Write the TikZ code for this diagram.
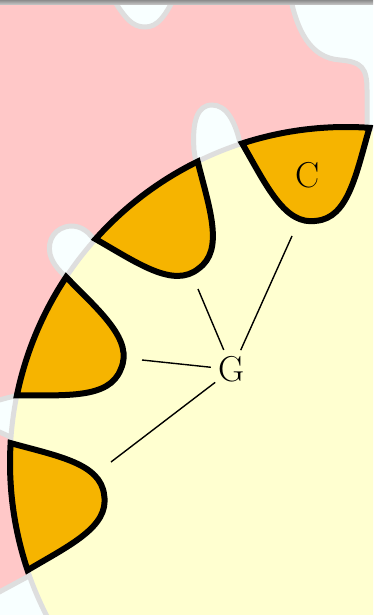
\documentclass[tikz,border=0pt]{standalone}
\usetikzlibrary{calc}
\definecolor{bgwhite}{RGB}{248,255,255}
\definecolor{pinkreg}{RGB}{255,200,200}
\definecolor{disccol}{RGB}{255,255,208}
\definecolor{petalcol}{RGB}{246,180,0}
\definecolor{outl}{RGB}{222,222,222}
\tikzset{
  region/.style={fill=pinkreg, draw=outl, line width=5pt},
  discstyle/.style={fill=disccol, draw=outl, line width=5pt},
  petalstyle/.style={fill=petalcol, draw=black, line width=6pt},
  lbl/.style={font=\fontsize{36}{40}\selectfont, inner sep=0pt},
  link/.style={line width=1.4pt, draw=black}
}
% local control points: c1=(285,45) -> r 288.5, a 8.97 ; c2=(243,32) -> r 245.1, a 7.50
\newcommand\drawpetal[1]{%
  \draw[petalstyle] ($(O)+(#1+11:336)$)
    .. controls ($(O)+(#1+8.97:288.5)$) and ($(O)+(#1+7.5:245.1)$) .. ($(O)+(#1:244)$)
    .. controls ($(O)+(#1-7.5:245.1)$) and ($(O)+(#1-8.97:288.5)$) .. ($(O)+(#1-11:336)$)
    arc[start angle=#1-11, end angle=#1+11, radius=336] -- cycle;}
\begin{document}
\begin{tikzpicture}[x=1pt,y=-1pt]
\useasboundingbox (0,0) rectangle (373,615);
\clip (0,0) rectangle (373,615);
\fill[bgwhite] (0,0) rectangle (373,615);
% outer pink region
\path[region] (-10,-10) -- (108,-10)
  .. controls (125,20) and (133,27) .. (145,27)
  .. controls (157,27) and (165,18) .. (178,-10)
  -- (289,-10)
  .. controls (296,30) and (310,58) .. (340,60)
  .. controls (362,62) and (367,68) .. (367,90)
  -- (367,140) -- (260,200) -- (242,152)
  .. controls (236,120) and (226,105) .. (212,105)
  .. controls (197,105) and (192,122) .. (194,150)
  -- (200,190) -- (150,250) -- (97,244)
  .. controls (89,231) and (81,226) .. (71,226)
  .. controls (55,227) and (47,240) .. (50,254)
  .. controls (53,265) and (60,272) .. (72,282)
  -- (120,300) -- (80,385)
  .. controls (40,390) and (10,396) .. (-10,403)
  -- (-10,428)
  .. controls (5,434) and (25,444) .. (60,460)
  -- (80,540) -- (40,570) -- (-10,597) -- cycle;
% disc
\coordinate (O) at (346,463);
\draw[discstyle] (O) circle[radius=336];
% petals
\drawpetal{172.4}
\drawpetal{202.6}
\drawpetal{232.8}
\drawpetal{263.0}
% labels
\node[lbl] (C) at (308,175) {C};
\node[lbl, circle, minimum size=42pt] (G) at (232,369.5) {G};
% link ends
\coordinate (e1) at (292,236);
\coordinate (e2) at (198,289);
\coordinate (e3) at (142,360);
\coordinate (e4) at (111,462);
\draw[link] (G) -- (e1);
\draw[link] (G) -- (e2);
\draw[link] (G) -- (e3);
\draw[link] (G) -- (e4);
% top strip
\shade[top color=black!45, bottom color=black!20] (0,0) rectangle (373,5);
\end{tikzpicture}
\end{document}
